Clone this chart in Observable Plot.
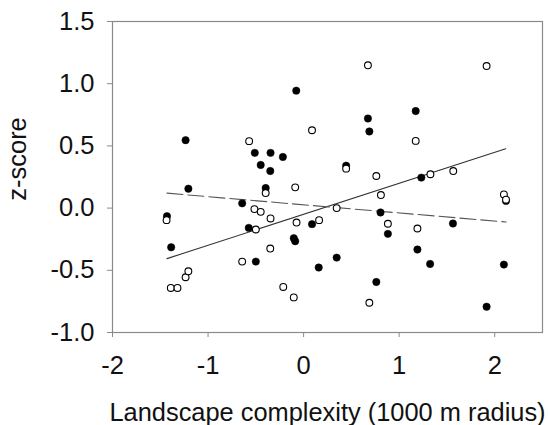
<!DOCTYPE html>
<html>
<head>
<meta charset="utf-8">
<script src="https://cdn.jsdelivr.net/npm/d3@7"></script>
<script src="https://cdn.jsdelivr.net/npm/@observablehq/plot@0.6"></script>
<style>
  html, body { margin: 0; padding: 0; background: #fff; }
</style>
</head>
<body>
<div id="chart"></div>
<script>
// Filled (black) points
const filledX = [-1.43, -1.386, -1.235, -1.206, -0.643, -0.574, -0.5, -0.511, -0.346, -0.449, -0.349, -0.397, -0.217, -0.077, -0.103, -0.088, 0.088, 0.158, 0.346, 0.445, 0.673, 0.688, 0.761, 0.805, 0.882, 1.173, 1.232, 1.191, 1.324, 1.563, 1.915, 2.096, 2.118];
const filledY = [-0.065, -0.315, 0.546, 0.156, 0.038, -0.159, -0.43, 0.444, 0.444, 0.347, 0.298, 0.161, 0.411, 0.944, -0.242, -0.266, -0.129, -0.478, -0.398, 0.341, 0.72, 0.616, -0.594, -0.035, -0.207, 0.78, 0.245, -0.333, -0.449, -0.124, -0.793, -0.454, 0.058];

// Open (white) points
const openX = [-1.434, -1.39, -1.32, -1.235, -1.206, -0.643, -0.57, -0.515, -0.5, -0.449, -0.397, -0.346, -0.349, -0.213, -0.103, -0.088, -0.074, 0.088, 0.162, 0.346, 0.445, 0.673, 0.688, 0.761, 0.809, 0.882, 1.173, 1.191, 1.327, 1.566, 1.915, 2.096, 2.118];
const openY = [-0.097, -0.642, -0.642, -0.556, -0.508, -0.43, 0.538, -0.008, -0.172, -0.03, 0.121, -0.083, -0.325, -0.634, -0.718, 0.167, -0.116, 0.626, -0.097, 0.0, 0.317, 1.148, -0.761, 0.258, 0.105, -0.126, 0.54, -0.164, 0.272, 0.298, 1.142, 0.11, 0.068];

// Regression lines (endpoints)
const solidX = [-1.43, 2.115];
const solidY = [-0.406, 0.477];
const dashX = [-1.43, 2.12];
const dashY = [0.12, -0.112];

// Ticks and labels
const xTicks = [-2, -1, 0, 1, 2];
const yTicks = [-1, -0.5, 0, 0.5, 1, 1.5];
const xLabel = "Landscape complexity (1000 m radius)";
const yLabel = "z-score";

const filled = filledX.map((x, i) => ({x, y: filledY[i]}));
const open = openX.map((x, i) => ({x, y: openY[i]}));
const solid = solidX.map((x, i) => ({x, y: solidY[i]}));
const dashed = dashX.map((x, i) => ({x, y: dashY[i]}));

const chart = Plot.plot({
  width: 550,
  height: 425,
  marginLeft: 112,
  marginRight: 8,
  marginTop: 21,
  marginBottom: 93,
  style: {fontFamily: "'Liberation Sans', Arial, sans-serif", fontSize: "25px", color: "#111", background: "#fff"},
  x: {domain: [-2, 2.5]},
  y: {domain: [-1, 1.5]},
  marks: [
    Plot.frame({stroke: "#8a8a8a", strokeWidth: 1.2}),
    Plot.axisX({ticks: xTicks, tickFormat: d => String(d), tickSize: 5, tickPadding: 18, stroke: "#8a8a8a", fill: "#111", fontSize: 25.5, label: null}),
    Plot.axisY({ticks: yTicks, tickFormat: d => d.toFixed(1), tickSize: 5, tickPadding: 13, stroke: "#8a8a8a", fill: "#111", fontSize: 25.5, label: null}),
    Plot.line(solid, {x: "x", y: "y", stroke: "#333", strokeWidth: 1.1}),
    Plot.line(dashed, {x: "x", y: "y", stroke: "#555", strokeWidth: 1.1, strokeDasharray: "16,5"}),
    Plot.dot(filled, {x: "x", y: "y", r: 3.7, fill: "#000", stroke: "#000", strokeWidth: 0.5}),
    Plot.dot(open, {x: "x", y: "y", r: 3.4, fill: "#fff", stroke: "#000", strokeWidth: 1.1}),
    Plot.text([yLabel], {frameAnchor: "left", text: d => d, rotate: -90, dx: -95, dy: -18, fontSize: 25.5, fill: "#111", textAnchor: "middle", lineAnchor: "middle"}),
    Plot.text([xLabel], {frameAnchor: "bottom", text: d => d, dy: 80, fontSize: 25.4, fill: "#111", textAnchor: "middle", lineAnchor: "middle"})
  ]
});
document.getElementById("chart").appendChild(chart);
</script>
</body>
</html>
